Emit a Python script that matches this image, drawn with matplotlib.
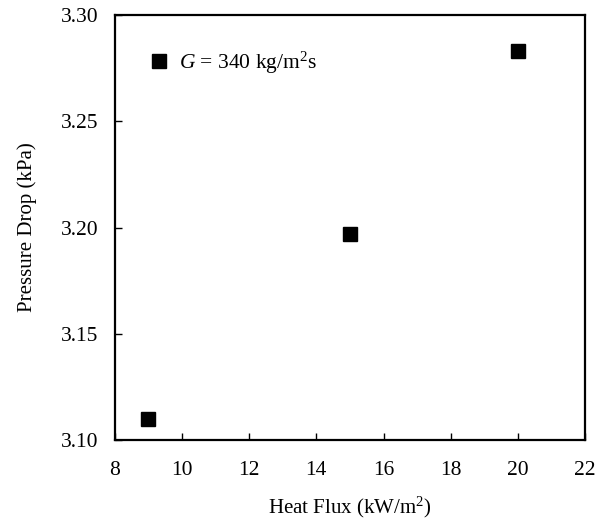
import matplotlib
matplotlib.use("Agg")
import matplotlib.pyplot as plt

plt.rcParams['font.family'] = ['Liberation Serif', 'DejaVu Serif']
plt.rcParams['mathtext.fontset'] = 'custom'
plt.rcParams['mathtext.rm'] = 'Liberation Serif'
plt.rcParams['mathtext.it'] = 'Liberation Serif:italic'

# data
heat_flux = [9, 15, 20]
pressure_drop = [3.110, 3.197, 3.283]
series_label = r'$G$ = 340 kg/m$^2$s'

fig = plt.figure(figsize=(6.07, 5.19), dpi=100)
ax = fig.add_axes([0.189, 0.152, 0.775, 0.819])

ax.plot(heat_flux, pressure_drop, ls='none', marker='s', ms=9.5,
        color='black', label=series_label)

ax.set_xlim(8, 22)
ax.set_ylim(3.10, 3.30)
ax.set_xticks(range(8, 23, 2))
ax.set_yticks([3.10, 3.15, 3.20, 3.25, 3.30])
ax.set_yticklabels(['3.10', '3.15', '3.20', '3.25', '3.30'])

ax.tick_params(direction='in', length=5, width=1, labelsize=15.5)
ax.tick_params(axis='x', pad=15)
ax.tick_params(axis='y', pad=12)
for s in ax.spines.values():
    s.set_linewidth(1.6)

ax.set_xlabel('Heat Flux (kW/m$^2$)', fontsize=15, labelpad=11)
ax.set_ylabel('Pressure Drop (kPa)', fontsize=15, labelpad=17)

ax.legend(loc='upper left', frameon=False, fontsize=15.5, handletextpad=0.5,
          borderaxespad=1.3, handlelength=0.9, borderpad=0.3)

fig.savefig('out.png', dpi=100)
